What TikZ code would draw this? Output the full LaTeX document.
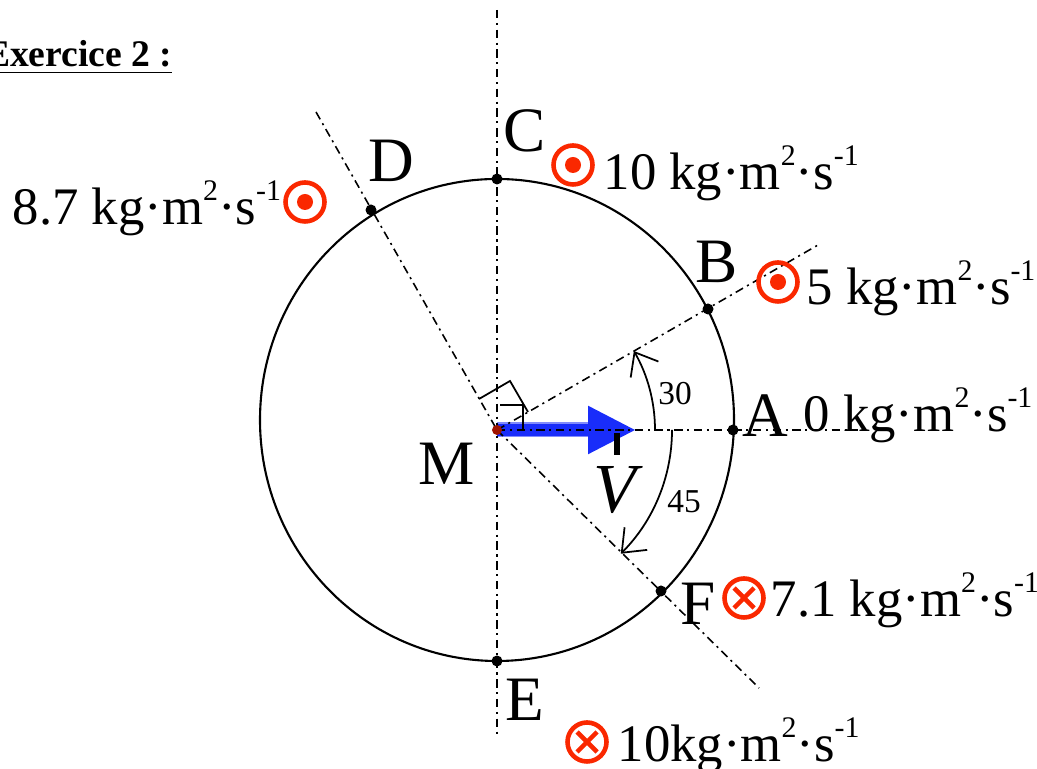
\documentclass[tikz,border=0pt]{standalone}
\usepackage{fontspec}
\setmainfont{Liberation Serif}
\usetikzlibrary{arrows.meta}
\definecolor{rouge}{RGB}{250,40,0}
\definecolor{bleu}{RGB}{25,45,250}
\definecolor{brun}{RGB}{160,20,0}
\newcommand{\expo}[1]{\raisebox{7pt}{\fontsize{8.5}{9}\selectfont #1}}
\newcommand{\unite}{kg·m\expo{2}·s\expo{-1}}
\tikzset{
  axe/.style={line width=0.45pt, dash pattern=on 2.4pt off 1.3pt on 0.6pt off 1.3pt},
  pt/.style={circle, fill, inner sep=0pt, minimum size=1.1mm},
  lettre/.style={inner sep=0pt, anchor=base west, font=\fontsize{18}{20}\selectfont},
  valeur/.style={inner sep=0pt, anchor=base west, font=\fontsize{15}{18}\selectfont},
  mesure/.style={inner sep=0pt, font=\fontsize{9.5}{11}\selectfont},
  fleche/.style={line width=0.5pt, -{Straight Barb[length=2mm,width=3.2mm]}},
  sortant/.pic={\draw[rouge, line width=1.3pt] (0,0) circle (0.195); \fill[rouge] (0,0) circle (0.08);},
  entrant/.pic={\draw[rouge, line width=1.3pt] (0,0) circle (0.195) (-0.1,-0.1) -- (0.1,0.1) (-0.1,0.1) -- (0.1,-0.1);}
}
\begin{document}
\begin{tikzpicture}
    \useasboundingbox (0,0) rectangle (10.37,7.69);
    % Titre
    \node[anchor=base east, inner sep=0pt, font=\bfseries\fontsize{10.7}{12}\selectfont] (titre) at (1.73,7.02) {\underline{Exercice 2 :}};
    % Centre et extremites des axes
    \coordinate (M) at (4.97,3.39);
    \coordinate (haut) at (4.97,7.59);
    \coordinate (bas) at (4.97,0.31);
    \coordinate (xA) at (8.58,3.39);
    \coordinate (xB) at (8.18,5.24);
    \coordinate (xD) at (3.16,6.57);
    \coordinate (xF) at (7.59,0.81);
    \coordinate (Vb) at (6.36,3.39);
    % Cercle de la trajectoire
    \draw[line width=0.6pt] (4.97,3.49) ellipse [x radius=2.37, y radius=2.41];
    % Vecteur vitesse
    \draw[bleu!55, line width=1.5mm] (M) -- (5.9,3.39);
    \draw[bleu, line width=1.15mm, -{Triangle[length=4.8mm,width=4.5mm]}] (M) -- (Vb);
    \draw[line width=0.6mm] (6.17,3.36) -- (6.17,3.14);
    % Axes en trait mixte
    \draw[axe] (haut) -- (bas);
    \draw[axe] (M) -- (xA);
    \draw[axe] (M) -- (xB);
    \draw[axe] (xD) -- (M);
    \draw[axe] (M) -- (xF);
    % Symboles d'angles droits
    \draw[line width=0.5pt] (4.79,3.70) -- (5.10,3.88) -- (5.28,3.57);
    \draw[line width=0.5pt] (5.00,3.64) -- (5.23,3.64) -- (5.23,3.40);
    \fill[brun] (M) circle (0.05);
    % Angles
    \draw[fleche] ([shift={(0:1.58)}]M) arc[start angle=0, end angle=30, radius=1.58];
    \draw[fleche] ([shift={(0:1.75)}]M) arc[start angle=0, end angle=-45, radius=1.75];
    \node[mesure] (a30) at (6.75,3.75) {30};
    \node[mesure] (a45) at (6.84,2.67) {45};
    % Points sur le cercle
    \node[pt] (A) at (7.33,3.39) {};
    \node[pt] (B) at (7.08,4.60) {};
    \node[pt] (C) at (4.97,5.90) {};
    \node[pt] (D) at (3.71,5.59) {};
    \node[pt] (E) at (4.97,1.08) {};
    \node[pt] (F) at (6.61,1.78) {};
    % Noms des points
    \node[lettre] (lA) at (7.42,3.32) {A};
    \node[lettre] (lB) at (6.95,4.86) {B};
    \node[lettre] (lC) at (5.03,6.17) {C};
    \node[lettre] (lD) at (3.68,5.87) {D};
    \node[lettre] (lE) at (5.05,0.48) {E};
    \node[lettre] (lF) at (6.80,1.44) {F};
    \node[lettre] (lM) at (4.18,2.84) {M};
    \node[lettre, font=\itshape\fontsize{20}{22}\selectfont] (lV) at (5.93,2.56) {V};
    % Moments cinetiques
    \pic at (5.73,6.04) {sortant};
    \pic at (3.05,5.67) {sortant};
    \pic at (7.78,4.87) {sortant};
    \pic at (7.44,1.71) {entrant};
    \pic at (5.87,0.27) {entrant};
    \node[valeur] (vC) at (6.03,5.79) {10 \unite};
    \node[valeur] (vD) at (0.12,5.44) {8.7 \unite};
    \node[valeur] (vB) at (8.06,4.64) {5 \unite};
    \node[valeur] (vA) at (8.03,3.37) {0 \unite};
    \node[valeur] (vF) at (7.70,1.52) {7.1 \unite};
    \node[valeur] (vE) at (6.17,0.07) {10\unite};
\end{tikzpicture}
\end{document}
